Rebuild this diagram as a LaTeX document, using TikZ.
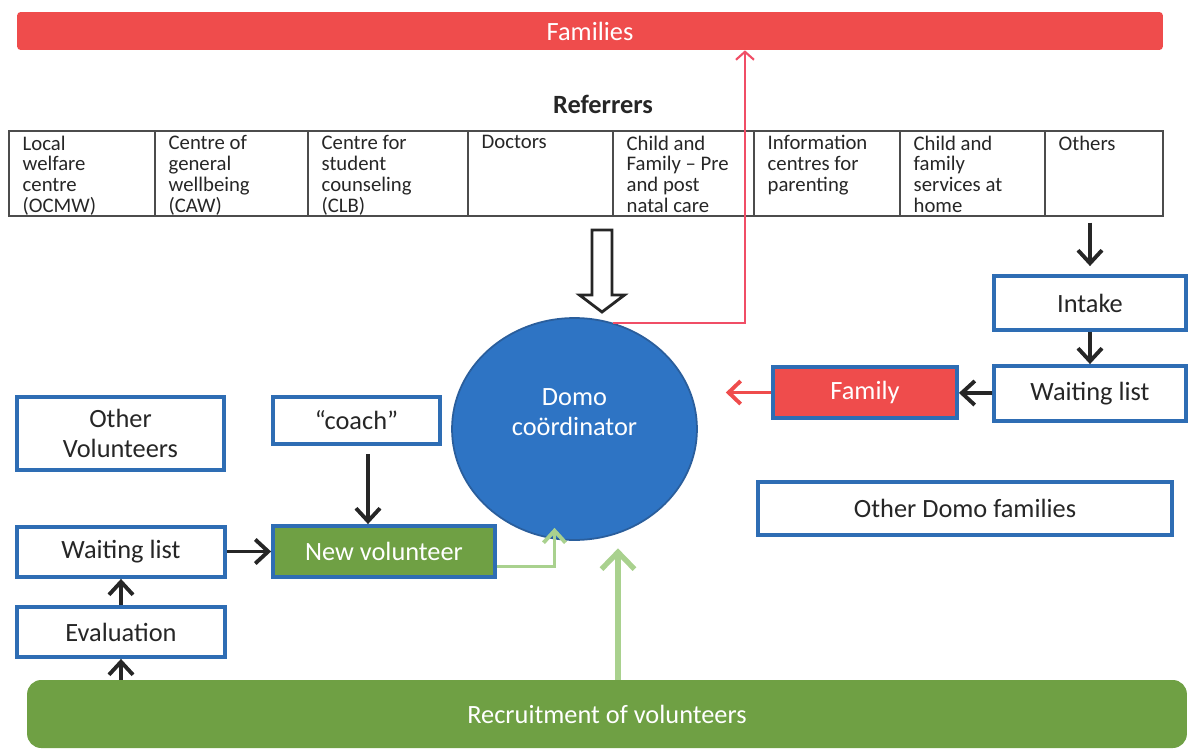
\documentclass[tikz,border=0pt]{standalone}
\usepackage{fontspec}
\setmainfont{Carlito}
\usetikzlibrary{shapes,arrows,positioning,calc,arrows.meta}

\definecolor{famred}{HTML}{EF4C4C}
\definecolor{domoblue}{HTML}{2E74C4}
\definecolor{domoedge}{HTML}{2A5E9C}
\definecolor{boxblue}{HTML}{2E6DB4}
\definecolor{volgreen}{HTML}{6FA044}
\definecolor{lightgreen}{HTML}{A9D18E}
\definecolor{linkred}{HTML}{F04E66}
\definecolor{arrowdark}{HTML}{262626}
\definecolor{textdark}{HTML}{262626}

\newcommand{\lblfont}{\fontsize{15}{17}\selectfont}
\newcommand{\cellfont}{\fontsize{11.8}{11.9}\selectfont}

\tikzset{
  box/.style={draw=boxblue, line width=2.2pt, fill=white, text=textdark, font=\lblfont, align=center, inner sep=0pt},
  bar/.style={rounded corners=2pt, text=white, font=\lblfont, inner sep=0pt},
  refcell/.style={draw=gray!60!black, line width=0.8pt, inner sep=0pt, minimum height=1.7cm},
  reflabel/.style={anchor=north west, align=left, font=\cellfont, text=textdark, inner sep=0pt, xshift=0.28cm, yshift=-0.1cm},
  darrow/.style={draw=arrowdark, line width=2.2pt, -{Straight Barb[length=2.6mm,width=4.8mm]}},
  greenarrow/.style={draw=lightgreen, line width=2.2pt, -{Straight Barb[length=2.4mm,width=4.4mm]}},
  redarrow/.style={draw=linkred, line width=1.2pt, -{Straight Barb[length=1.6mm,width=3.6mm]}}
}

\begin{document}
\begin{tikzpicture}[x=0.02cm, y=-0.02cm]
    \useasboundingbox (0,0) rectangle (1188,751);

    % Families bar
    \node[bar, fill=famred, minimum width=22.92cm, minimum height=0.76cm] (families) at (590,31) {Families};

    % Referrers
    \node[font=\lblfont\bfseries, text=textdark] (referrers) at (603,104) {Referrers};
    \node[refcell, minimum width=2.92cm, label={[reflabel]north west:Local\\welfare\\centre\\(OCMW)}] (ocmw) at (82,173.5) {};
    \node[refcell, minimum width=3.06cm, label={[reflabel]north west:Centre of\\general\\wellbeing\\(CAW)}] (caw) at (231.5,173.5) {};
    \node[refcell, minimum width=3.20cm, label={[reflabel]north west:Centre for\\student\\counseling\\(CLB)}] (clb) at (388,173.5) {};
    \node[refcell, minimum width=2.90cm, label={[reflabel]north west:Doctors}] (doctors) at (540.5,173.5) {};
    \node[refcell, minimum width=2.82cm, label={[reflabel]north west:Child and\\Family – Pre\\and post\\natal care}] (natal) at (683.5,173.5) {};
    \node[refcell, minimum width=2.92cm, label={[reflabel]north west:Information\\centres for\\parenting}] (info) at (827,173.5) {};
    \node[refcell, minimum width=2.90cm, label={[reflabel]north west:Child and\\family\\services at\\home}] (home) at (972.5,173.5) {};
    \node[refcell, minimum width=2.36cm, label={[reflabel]north west:Others}] (others) at (1104,173.5) {};

    % Domo coordinator
    \node[ellipse, draw=domoedge, line width=1pt, fill=domoblue, minimum width=4.9cm, minimum height=4.44cm,
          label={[text=white, font=\lblfont, align=center, yshift=0.34cm]center:Domo\\coördinator}] (coord) at (574.5,429) {};

    % hollow arrow referrers -> coordinator
    \coordinate (feed) at (602,230);
    \draw[arrowdark, line width=1.6pt, fill=white, line join=miter]
        (feed) ++(-10,0) -- ++(0,65) -- ++(-12.5,0) -- ++(22.5,17) -- ++(22.5,-17) -- ++(-12.5,0) -- ++(0,-65) -- cycle;

    % Family side
    \node[box, minimum width=3.84cm, minimum height=1.08cm] (intake) at (1090,303) {Intake};
    \node[box, minimum width=3.84cm, minimum height=1.1cm] (wlright) at (1090,393.5) {Waiting list};
    \node[box, fill=famred, text=white, minimum width=3.68cm, minimum height=1.02cm] (family) at (865,392.5) {Family};
    \node[box, minimum width=8.28cm, minimum height=1.06cm] (otherdomo) at (965,508.5) {Other Domo families};

    % Volunteer side
    \node[box, minimum width=4.14cm, minimum height=1.46cm] (othervol) at (120.5,433.5) {Other\\Volunteers};
    \node[box, minimum width=3.34cm, minimum height=0.94cm] (coach) at (356.5,420.5) {“coach”};
    \node[box, fill=volgreen, text=white, minimum width=4.44cm, minimum height=1.02cm] (newvol) at (384,551.5) {New volunteer};
    \node[box, minimum width=4.16cm, minimum height=1.0cm] (wlleft) at (121,552) {Waiting list};
    \node[box, minimum width=4.16cm, minimum height=1.0cm] (evaluation) at (121,632) {Evaluation};
    \node[bar, fill=volgreen, rounded corners=8pt, minimum width=23.2cm, minimum height=1.36cm] (recruit) at (607,714) {Recruitment of volunteers};

    % Connections
    \draw[redarrow] (coord.70) -| ([xshift=3.1cm]families.south);
    \draw[darrow] ([yshift=-0.12cm]intake.north |- others.south) -- ([yshift=0.16cm]intake.north);
    \draw[darrow] (intake) -- (wlright);
    \draw[darrow] (wlright) -- (family);
    \draw[draw=famred, line width=2.2pt, -{Straight Barb[length=2.4mm,width=4.6mm]}] (family.west) -- ([xshift=0.56cm]family.west -| coord.east);
    \draw[darrow] ([xshift=0.23cm,yshift=-0.16cm]coach.south) -- ([xshift=0.23cm]coach.south |- newvol.north);
    \draw[darrow] (wlleft.east |- newvol) -- (newvol.west);
    \draw[darrow] (evaluation) -- (wlleft);
    \draw[darrow] (evaluation.south |- recruit.north) -- (evaluation.south);
    \draw[greenarrow] ([yshift=-0.3cm]newvol.east) -| ([xshift=-0.4cm,yshift=0.26cm]coord.south);
    \draw[greenarrow, line width=3pt, shorten >=0.15cm, -{Straight Barb[length=3.4mm,width=6.6mm]}] ([xshift=0.87cm]coord.south |- recruit.north) -- ([xshift=0.87cm]coord.south);
\end{tikzpicture}
\end{document}
